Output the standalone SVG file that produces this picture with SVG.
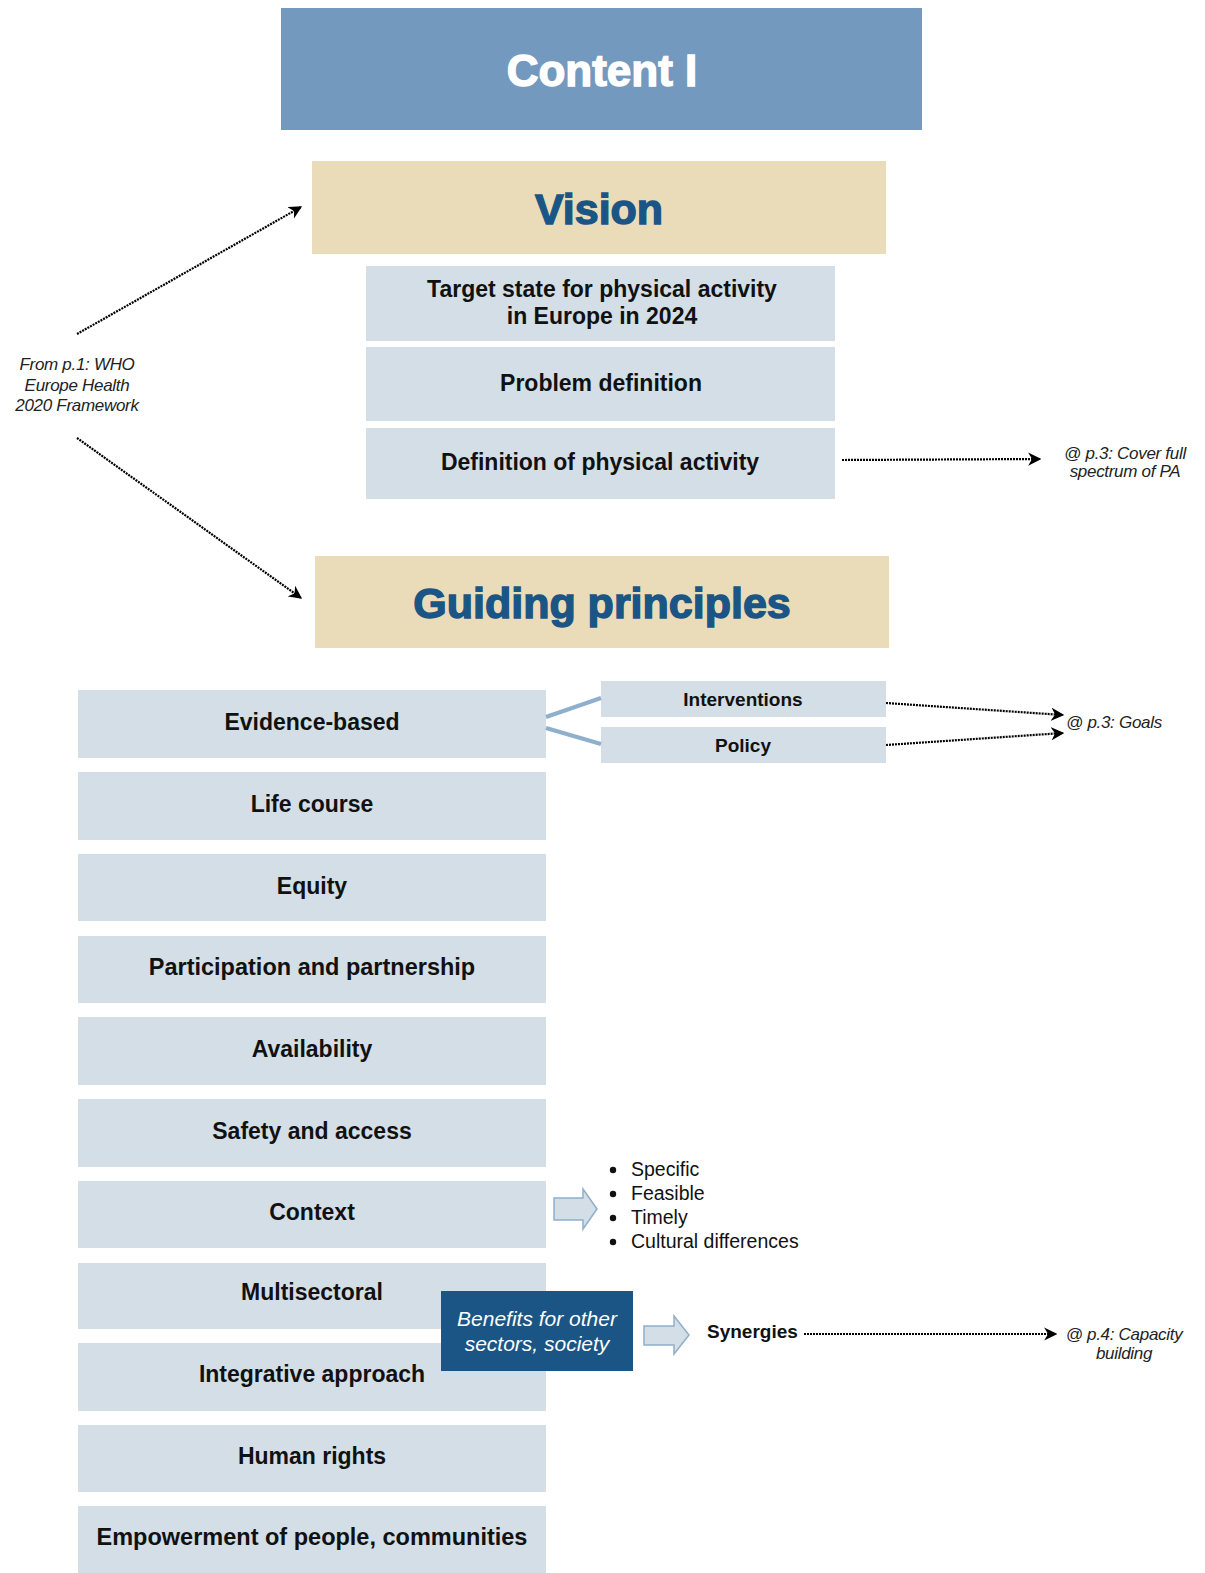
<svg xmlns="http://www.w3.org/2000/svg" width="1205" height="1573" viewBox="0 0 1205 1573">
<defs>
<style>
.hdr{fill:#7399bf}
.tan{fill:#ebdcb9}
.lb{fill:#d3dee6}
.t{font-family:"Liberation Sans",Arial,sans-serif;text-anchor:middle}
.b{font-weight:bold;fill:#111}
.big{font-weight:bold;fill:#1a5585;stroke:#1a5585;stroke-width:1.4}
.note{font-family:"Liberation Sans",Arial,sans-serif;font-style:italic;font-size:17px;fill:#222;text-anchor:middle;letter-spacing:-0.3px}
.dot{fill:none;stroke:#000;stroke-width:2.2;stroke-dasharray:2 1}
.blk{fill:#d3dee6;stroke:#8fb0cc;stroke-width:1.5}
</style>
<marker id="ah" viewBox="0 0 10 10" refX="9" refY="5" markerWidth="6" markerHeight="6" orient="auto" markerUnits="strokeWidth">
<path d="M0,0 L10,5 L0,10 L3,5 z" fill="#000"/>
</marker>
</defs>
<rect width="1205" height="1573" fill="#fff"/>

<g id="content-title">
<rect class="hdr" x="281" y="8" width="641" height="122"/>
<text class="t" x="602" y="86" font-size="44" font-weight="bold" fill="#fff" stroke="#fff" stroke-width="1.4">Content I</text>
</g>

<g id="vision">
<rect class="tan" x="312" y="161" width="574" height="93"/>
<text class="t big" x="599" y="224" font-size="43">Vision</text>
</g>
<g id="target-state">
<rect class="lb" x="366" y="266" width="469" height="75"/>
<text class="t b" x="602" y="297" font-size="23">Target state for physical activity</text>
<text class="t b" x="602" y="324" font-size="23">in Europe in 2024</text>
</g>
<g id="problem-definition">
<rect class="lb" x="366" y="347" width="469" height="74"/>
<text class="t b" x="601" y="391" font-size="23">Problem definition</text>
</g>
<g id="definition-pa">
<rect class="lb" x="366" y="428" width="469" height="71"/>
<text class="t b" x="600" y="470" font-size="23">Definition of physical activity</text>
</g>

<g id="guiding-principles">
<rect class="tan" x="315" y="556" width="574" height="92"/>
<text class="t big" x="602" y="618" font-size="43">Guiding principles</text>
</g>

<g id="evidence-based"><rect class="lb" x="78" y="690" width="468" height="68"/><text class="t b" x="312" y="730" font-size="23">Evidence-based</text></g>
<g id="life-course"><rect class="lb" x="78" y="772" width="468" height="68"/><text class="t b" x="312" y="812" font-size="23">Life course</text></g>
<g id="equity"><rect class="lb" x="78" y="854" width="468" height="67"/><text class="t b" x="312" y="894" font-size="23">Equity</text></g>
<g id="participation"><rect class="lb" x="78" y="936" width="468" height="67"/><text class="t b" x="312" y="975" font-size="23.5">Participation and partnership</text></g>
<g id="availability"><rect class="lb" x="78" y="1017" width="468" height="68"/><text class="t b" x="312" y="1057" font-size="23">Availability</text></g>
<g id="safety"><rect class="lb" x="78" y="1099" width="468" height="68"/><text class="t b" x="312" y="1139" font-size="23">Safety and access</text></g>
<g id="context"><rect class="lb" x="78" y="1181" width="468" height="67"/><text class="t b" x="312" y="1220" font-size="23">Context</text></g>
<g id="multisectoral"><rect class="lb" x="78" y="1263" width="468" height="66"/><text class="t b" x="312" y="1300" font-size="23">Multisectoral</text></g>
<g id="integrative"><rect class="lb" x="78" y="1343" width="468" height="68"/><text class="t b" x="312" y="1382" font-size="23">Integrative approach</text></g>
<g id="human-rights"><rect class="lb" x="78" y="1425" width="468" height="67"/><text class="t b" x="312" y="1464" font-size="23">Human rights</text></g>
<g id="empowerment"><rect class="lb" x="78" y="1506" width="468" height="67"/><text class="t b" x="312" y="1545" font-size="23.5">Empowerment of people, communities</text></g>

<g id="interventions"><rect class="lb" x="601" y="681" width="285" height="36"/><text class="t b" x="743" y="706" font-size="19">Interventions</text></g>
<g id="policy"><rect class="lb" x="601" y="727" width="285" height="36"/><text class="t b" x="743" y="752" font-size="19">Policy</text></g>

<g id="benefits">
<rect x="441" y="1291" width="192" height="80" fill="#1a5585"/>
<text class="t" x="537" y="1326" font-size="21" font-style="italic" fill="#fff">Benefits for other</text>
<text class="t" x="537" y="1351" font-size="21" font-style="italic" fill="#fff">sectors, society</text>
</g>

<g id="context-list" font-family="Liberation Sans, Arial, sans-serif" font-size="19.5" fill="#111">
<circle cx="613" cy="1170" r="3.2"/><text x="631" y="1176">Specific</text>
<circle cx="613" cy="1194" r="3.2"/><text x="631" y="1200">Feasible</text>
<circle cx="613" cy="1218" r="3.2"/><text x="631" y="1224">Timely</text>
<circle cx="613" cy="1242" r="3.2"/><text x="631" y="1248">Cultural differences</text>
</g>

<g id="synergies"><text x="707" y="1338" font-family="Liberation Sans, Arial, sans-serif" font-size="19" font-weight="bold" fill="#111">Synergies</text></g>

<g id="notes">
<text class="note" x="77" y="370">From p.1: WHO</text>
<text class="note" x="77" y="391">Europe Health</text>
<text class="note" x="77" y="411">2020 Framework</text>
<text class="note" x="1125" y="459">@ p.3: Cover full</text>
<text class="note" x="1125" y="477">spectrum of PA</text>
<text class="note" x="1066" y="728" style="text-anchor:start">@ p.3: Goals</text>
<text class="note" x="1124" y="1340">@ p.4: Capacity</text>
<text class="note" x="1124" y="1359">building</text>
</g>

<g id="connectors">
<line class="dot" x1="77" y1="334" x2="301" y2="207" marker-end="url(#ah)"/>
<line class="dot" x1="77" y1="438" x2="301" y2="598" marker-end="url(#ah)"/>
<line class="dot" x1="842" y1="460" x2="1040" y2="459" marker-end="url(#ah)"/>
<line class="dot" x1="886" y1="703" x2="1063" y2="715" marker-end="url(#ah)"/>
<line class="dot" x1="886" y1="745" x2="1063" y2="733" marker-end="url(#ah)"/>
<line class="dot" x1="804" y1="1334" x2="1056" y2="1334" marker-end="url(#ah)"/>
<polyline points="601,698 546,717" fill="none" stroke="#8fb0cc" stroke-width="4"/>
<polyline points="546,728 601,744" fill="none" stroke="#8fb0cc" stroke-width="4"/>
<path class="blk" d="M554,1198 L583,1198 L583,1189 L597,1209 L583,1229 L583,1220 L554,1220 Z"/>
<path class="blk" d="M644,1326 L674,1326 L674,1316 L689,1335 L674,1354 L674,1345 L644,1345 Z"/>
</g>
</svg>
